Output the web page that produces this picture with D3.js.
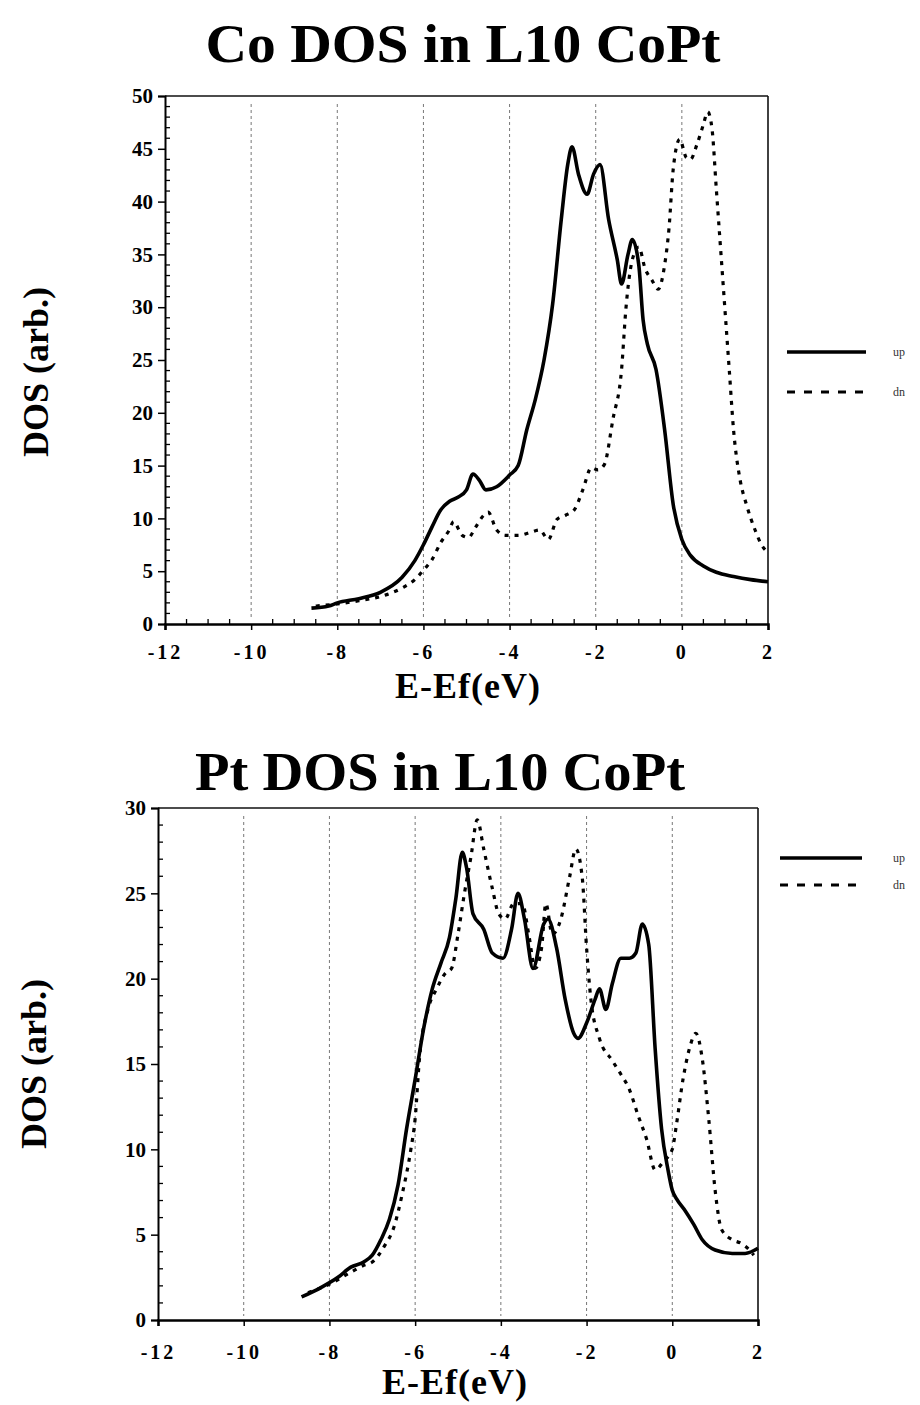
<!DOCTYPE html>
<html><head><meta charset="utf-8">
<script src="https://cdn.jsdelivr.net/npm/d3@7"></script>
<style>body{margin:0;background:#fff}svg{display:block}</style>
</head><body>
<script>
// ---- data ----
const xTicks = [-12,-10,-8,-6,-4,-2,0,2];
const gridX = [-10,-8,-6,-4,-2,0];
const coYTicks = [0,5,10,15,20,25,30,35,40,45,50];
const ptYTicks = [0,5,10,15,20,25,30];
const legendLabels = ["up","dn"];

const coUpE  = [-8.6,-8.2,-8,-7.5,-7,-6.5,-6.2,-6,-5.8,-5.6,-5.4,-5.2,-5,-4.85,-4.7,-4.55,-4.3,-4,-3.8,-3.6,-3.4,-3.2,-3,-2.8,-2.65,-2.55,-2.4,-2.2,-2.05,-1.9,-1.7,-1.5,-1.4,-1.25,-1.15,-1,-0.9,-0.8,-0.6,-0.4,-0.2,0,0.2,0.5,0.8,1.2,1.6,2];
const coUpD  = [1.5,1.7,2,2.4,3,4.4,6,7.5,9.2,10.8,11.6,12,12.7,14.2,13.6,12.7,13,14.1,15,18.4,21.3,25,30.3,38.3,43.5,45.2,42.6,40.7,42.6,43.5,38.3,34.5,32.2,35,36.4,34,28.8,26.5,24.1,18.4,11.3,8,6.5,5.5,4.9,4.5,4.2,4.0];
const coDnE  = [-8.5,-8,-7.5,-7,-6.5,-6.2,-6,-5.8,-5.6,-5.4,-5.3,-5.1,-4.95,-4.8,-4.6,-4.5,-4.3,-4.1,-3.8,-3.5,-3.3,-3.1,-2.9,-2.7,-2.5,-2.3,-2.1,-1.95,-1.8,-1.6,-1.4,-1.3,-1.15,-1,-0.85,-0.7,-0.55,-0.4,-0.3,-0.2,-0.05,0.1,0.2,0.35,0.5,0.6,0.7,0.8,0.9,1,1.1,1.2,1.35,1.5,1.7,1.85,2];
const coDnD  = [1.7,1.9,2.2,2.6,3.4,4.2,5.1,6.1,7.7,8.9,9.7,8.4,8.2,9.1,10.3,10.6,8.9,8.4,8.4,8.7,8.9,8.0,9.9,10.3,10.8,12.7,14.8,14.6,15.1,19.4,24.1,29.8,34.5,35.7,33.6,32.6,31.7,34,37.4,43.1,45.9,44.2,44,45.4,47.3,48.5,46.9,41.2,35.5,29.8,24.1,18.4,13.7,11.3,8.9,7.5,6.8];

const ptUpE  = [-8.65,-8.2,-7.8,-7.5,-7.2,-7,-6.8,-6.6,-6.4,-6.2,-6,-5.8,-5.6,-5.4,-5.2,-5.05,-4.9,-4.8,-4.65,-4.4,-4.2,-3.95,-3.75,-3.6,-3.45,-3.25,-3,-2.9,-2.7,-2.5,-2.3,-2.2,-2,-1.8,-1.7,-1.55,-1.4,-1.2,-1,-0.85,-0.7,-0.55,-0.4,-0.25,-0.1,0,0.1,0.3,0.5,0.7,1,1.4,1.7,2];
const ptUpD  = [1.35,1.9,2.5,3.1,3.4,3.8,4.7,5.9,7.9,11.2,14.1,17.1,19.4,20.9,22.4,24.7,27.4,26.5,23.8,22.9,21.5,21.2,22.9,25,23.5,20.6,23.2,23.5,21.8,18.8,16.8,16.5,17.4,18.8,19.4,18.2,19.7,21.2,21.2,21.5,23.2,22,15.9,11.2,8.8,7.6,7.1,6.4,5.6,4.7,4.1,3.9,3.9,4.2];
const ptDnE  = [-8.5,-8,-7.5,-7.2,-7,-6.7,-6.5,-6.3,-6.1,-6,-5.9,-5.7,-5.5,-5.3,-5.15,-5,-4.85,-4.7,-4.55,-4.4,-4.2,-4.05,-3.9,-3.7,-3.5,-3.35,-3.2,-3.05,-2.95,-2.8,-2.6,-2.4,-2.25,-2.1,-2,-1.9,-1.7,-1.4,-1.2,-1,-0.8,-0.6,-0.4,-0.2,0,0.1,0.25,0.4,0.55,0.7,0.85,1,1.15,1.4,1.6,1.8,1.9];
const ptDnD  = [1.6,2.1,2.8,3.2,3.4,4.4,5.4,7.4,10,11.8,15.3,18.2,19.4,20.3,20.6,22.6,25,27.1,29.3,27.6,25.3,23.8,23.5,24.4,24.4,22.6,20.6,21.8,24.4,22.6,23.5,25.9,27.6,25.9,21.8,18.8,16.5,15.2,14.4,13.5,12,10.6,8.8,9.3,10,11.5,14.1,15.9,16.8,15.3,11.8,7.6,5.3,4.7,4.5,4.1,3.8];

// ---- layout ----
const W = 920, H = 1405;
const svg = d3.select("body").append("svg").attr("width", W).attr("height", H);
const serif = "'Liberation Serif','DejaVu Serif',serif";

const panels = [
  {title:"Co DOS in L10 CoPt", titleX:463, titleY:62, titleLen:515,
   left:165, right:768, top:96, bottom:624, yMax:50, yTicks:coYTicks,
   up:[coUpE,coUpD], dn:[coDnE,coDnD], minorX:true,
   xLabelY:659, xTitleY:698, xTitleX:468, yTitleX:48, yTitleY:372,
   legY:[352,392], legX:[787,866], legTextX:893},
  {title:"Pt DOS in L10 CoPt", titleX:440, titleY:790, titleLen:490,
   left:158, right:758, top:808, bottom:1320, yMax:30, yTicks:ptYTicks,
   up:[ptUpE,ptUpD], dn:[ptDnE,ptDnD], minorX:false,
   xLabelY:1359, xTitleY:1394, xTitleX:455, yTitleX:46, yTitleY:1064,
   legY:[858,885], legX:[780,862], legTextX:893}
];

panels.forEach(p => {
  const g = svg.append("g");
  const x = d3.scaleLinear().domain([-12,2]).range([p.left,p.right]);
  const y = d3.scaleLinear().domain([0,p.yMax]).range([p.bottom,p.top]);

  g.append("text").attr("x",p.titleX).attr("y",p.titleY).attr("text-anchor","middle")
   .attr("font-family",serif).attr("font-weight","bold").attr("font-size",54)
   .attr("textLength",p.titleLen).attr("lengthAdjust","spacingAndGlyphs")
   .text(p.title);

  g.selectAll(".grid").data(gridX).join("line")
   .attr("x1",d=>x(d)).attr("x2",d=>x(d)).attr("y1",p.top+8).attr("y2",p.bottom-4)
   .attr("stroke","#777").attr("stroke-width",1).attr("stroke-dasharray","3,3");

  g.append("line").attr("x1",p.left).attr("x2",p.right).attr("y1",p.top).attr("y2",p.top)
   .attr("stroke","#111").attr("stroke-width",1.6);
  g.append("line").attr("x1",p.right).attr("x2",p.right).attr("y1",p.top).attr("y2",p.bottom)
   .attr("stroke","#111").attr("stroke-width",1.6);

  const xAxis = d3.axisBottom(x).tickValues(xTicks).tickSize(6).tickFormat(d=>d);
  const xa = g.append("g").attr("transform",`translate(0,${p.bottom})`).call(xAxis);
  xa.select(".domain").attr("stroke","#000").attr("stroke-width",2.5);
  xa.selectAll(".tick line").attr("stroke","#000").attr("stroke-width",1.5);
  xa.selectAll(".tick text").attr("font-family",serif).attr("font-weight","bold")
    .attr("font-size",20).attr("letter-spacing",3).attr("fill","#000")
    .attr("y",p.xLabelY-p.bottom).attr("dy",0);
  if (p.minorX) {
    const minors = d3.range(-12,2.01,0.5).filter(v=>!xTicks.includes(v));
    g.selectAll(".mx").data(minors).join("line")
     .attr("x1",d=>x(d)).attr("x2",d=>x(d)).attr("y1",p.bottom).attr("y2",p.bottom-5)
     .attr("stroke","#000").attr("stroke-width",1.3);
  }

  const yAxis = d3.axisLeft(y).tickValues(p.yTicks).tickSize(7).tickFormat(d=>d);
  const ya = g.append("g").attr("transform",`translate(${p.left},0)`).call(yAxis);
  ya.select(".domain").attr("stroke","#000").attr("stroke-width",2);
  ya.selectAll(".tick line").attr("stroke","#000").attr("stroke-width",1.5);
  ya.selectAll(".tick text").attr("font-family",serif).attr("font-weight","bold")
    .attr("font-size",21).attr("fill","#000").attr("x",-12);
  const yMinor = d3.range(0,p.yMax+0.01,1).filter(v=>v%5!==0);
  g.selectAll(".my").data(yMinor).join("line")
   .attr("x1",p.left).attr("x2",p.left+5).attr("y1",d=>y(d)).attr("y2",d=>y(d))
   .attr("stroke","#000").attr("stroke-width",1.3);

  g.append("text").attr("x",p.xTitleX).attr("y",p.xTitleY).attr("text-anchor","middle")
   .attr("font-family",serif).attr("font-weight","bold").attr("font-size",36)
   .attr("letter-spacing",1).text("E-Ef(eV)");
  g.append("text").attr("transform",`translate(${p.yTitleX},${p.yTitleY}) rotate(-90)`)
   .attr("text-anchor","middle").attr("font-family",serif).attr("font-weight","bold")
   .attr("font-size",36).text("DOS (arb.)");

  const line = d3.line().x(d=>x(d[0])).y(d=>y(d[1])).curve(d3.curveMonotoneX);
  const upPts = d3.zip(p.up[0],p.up[1]);
  const dnPts = d3.zip(p.dn[0],p.dn[1]);
  g.append("path").datum(dnPts).attr("d",line).attr("fill","none")
   .attr("stroke","#000").attr("stroke-width",3.2).attr("stroke-dasharray","4,6");
  g.append("path").datum(upPts).attr("d",line).attr("fill","none")
   .attr("stroke","#000").attr("stroke-width",3.6).attr("stroke-linejoin","round");

  g.append("line").attr("x1",p.legX[0]).attr("x2",p.legX[1]).attr("y1",p.legY[0]).attr("y2",p.legY[0])
   .attr("stroke","#000").attr("stroke-width",3.6);
  g.append("line").attr("x1",p.legX[0]).attr("x2",p.legX[1]).attr("y1",p.legY[1]).attr("y2",p.legY[1])
   .attr("stroke","#000").attr("stroke-width",3.2).attr("stroke-dasharray","8,9");
  g.selectAll(".lt").data(legendLabels).join("text")
   .attr("x",p.legTextX).attr("y",(d,i)=>p.legY[i]+4)
   .attr("font-family",serif).attr("font-size",12).attr("fill","#333").text(d=>d);
});
</script>
</body></html>
